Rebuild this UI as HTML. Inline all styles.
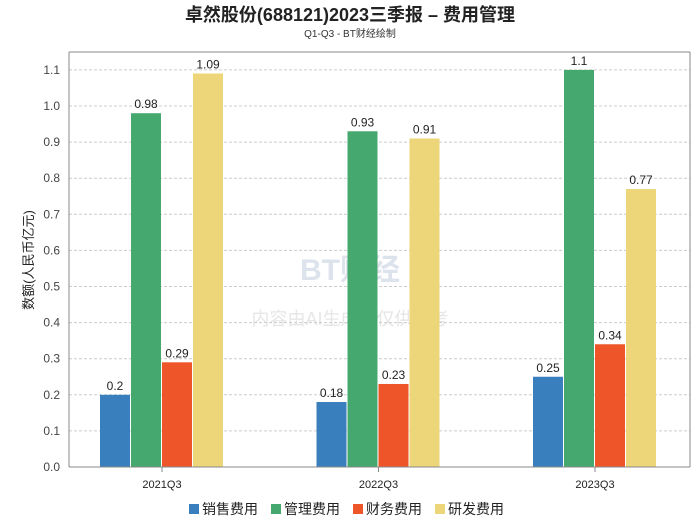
<!DOCTYPE html>
<html><head><meta charset="utf-8"><style>
body{margin:0;background:#fff;width:700px;height:524px;overflow:hidden;font-family:"Liberation Sans","Noto Sans CJK SC",sans-serif}
</style></head><body>
<svg width="700" height="524" xmlns="http://www.w3.org/2000/svg">
<text x="350" y="21" text-anchor="middle" font-size="18" font-weight="bold" fill="#222">卓然股份(688121)2023三季报 – 费用管理</text>
<text x="350" y="37" text-anchor="middle" font-size="10" fill="#333">Q1-Q3 - BT财经绘制</text>
<text x="350" y="280" text-anchor="middle" font-size="30" font-weight="bold" fill="#dde3ec">BT财经</text>
<text x="350" y="325" text-anchor="middle" font-size="18" fill="#e6e6e6">内容由AI生成，仅供参考</text>
<g id="grid"></g>
<g id="bars"></g>
<line x1="69" y1="52" x2="69" y2="467" stroke="#888"/>
<line x1="69" y1="467" x2="690" y2="467" stroke="#888"/>
<line x1="69" y1="52" x2="690" y2="52" stroke="#888"/>
<line x1="690" y1="52" x2="690" y2="467" stroke="#888"/>
<text transform="translate(33,260) rotate(-90)" text-anchor="middle" font-size="13" fill="#222">数额(人民币亿元)</text>
<g id="legend"></g>
</svg>
<script>
const categories=["2021Q3","2022Q3","2023Q3"];
const seriesNames=["销售费用","管理费用","财务费用","研发费用"];
const colors=["#3a7fbd","#45a86f","#ee5528","#ecd679"];
const sales=[0.2,0.18,0.25];
const admin=[0.98,0.93,1.1];
const finance=[0.29,0.23,0.34];
const rnd=[1.09,0.91,0.77];
const yTicks=[0,0.1,0.2,0.3,0.4,0.5,0.6,0.7,0.8,0.9,1.0,1.1];
const series=[sales,admin,finance,rnd];
const NS="http://www.w3.org/2000/svg";
const y=v=>467-v*361;
const xc=i=>162+216.5*i;
function mk(t,a,p){const e=document.createElementNS(NS,t);for(const k in a)e.setAttribute(k,a[k]);p.appendChild(e);return e;}
const grid=document.getElementById('grid'),bars=document.getElementById('bars'),leg=document.getElementById('legend');
yTicks.forEach(v=>{
 if(v>0){const l=mk('line',{x1:69,x2:690,y1:y(v),y2:y(v),stroke:'#ccc','stroke-dasharray':'3,2'},grid);
 
 }
 const t=mk('text',{x:60,y:y(v)+4,'text-anchor':'end','font-size':12,fill:'#444'},grid);t.textContent=v.toFixed(1);
 
 
});
categories.forEach((c,i)=>{
 const t=mk('text',{x:xc(i),y:488,'text-anchor':'middle','font-size':11,fill:'#222'},grid);t.textContent=c;
 
 
 mk('line',{x1:xc(i),x2:xc(i),y1:467,y2:472,stroke:'#888'},grid);
 series.forEach((s,j)=>{
  const x=xc(i)-62+j*31;
  const r=mk('rect',{x:x,y:y(s[i]),width:30,height:467-y(s[i]),fill:colors[j]},bars);
  
  
  const t=mk('text',{x:x+15,y:y(s[i])-5,'text-anchor':'middle','font-size':12,fill:'#222'},bars);t.textContent=String(s[i]);
  
  
 });
});
seriesNames.forEach((n,j)=>{
 const x=189+j*82;
 const g=mk('g',{},leg);
 
 
 mk('rect',{x:x,y:504,width:10,height:10,fill:colors[j]},g);
 const t=mk('text',{x:x+13,y:514,'font-size':14,fill:'#222'},g);t.textContent=n;
});
</script>
</body></html>
